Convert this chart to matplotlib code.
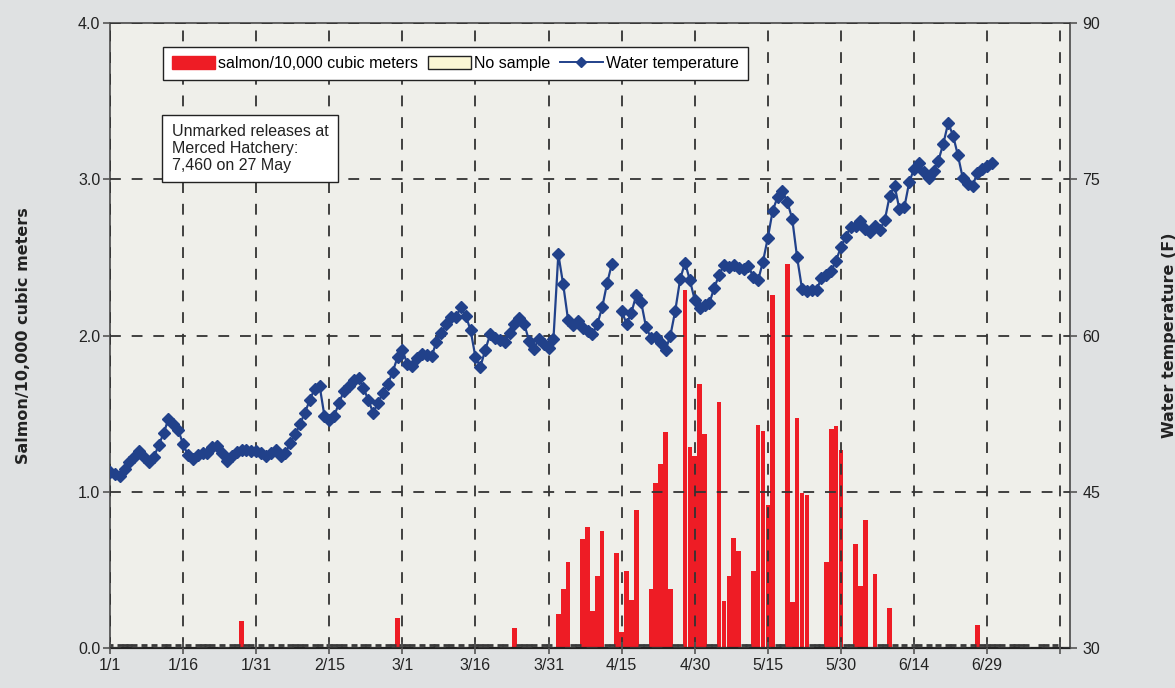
import numpy as np
import matplotlib
matplotlib.use("Agg")
import matplotlib.pyplot as plt
from matplotlib.patches import Patch
from matplotlib.lines import Line2D

plt.rcParams['font.family'] = ['Liberation Sans', 'DejaVu Sans']

# ---------------- data ----------------
tick_days = [0, 15, 30, 45, 60, 75, 90, 105, 120, 135, 150, 165, 180, 195]
tick_labels = ["1/1", "1/16", "1/31", "2/15", "3/1", "3/16", "3/31", "4/15",
               "4/30", "5/15", "5/30", "6/14", "6/29", ""]

# salmon per 10,000 cubic meters (day index from 1 Jan)
bar_days = [27, 59, 83, 92, 93, 94, 97, 98, 99, 100, 101, 104, 105, 106, 107, 108,
            111, 112, 113, 114, 115, 118, 119, 120, 121, 122, 125, 126, 127, 128, 129,
            132, 133, 134, 135, 136, 139, 140, 141, 142, 143, 147, 148, 149, 150,
            153, 154, 155, 157, 160, 178]
bar_values = [0.17, 0.19, 0.13, 0.22, 0.375, 0.55, 0.70, 0.775, 0.24, 0.46, 0.75,
              0.605, 0.10, 0.49, 0.31, 0.885, 0.38, 1.056, 1.176, 1.38, 0.38,
              2.29, 1.286, 1.227, 1.687, 1.367, 1.574, 0.30, 0.46, 0.707, 0.622,
              0.494, 1.43, 1.39, 0.914, 2.26, 2.46, 0.296, 1.474, 0.995, 0.978,
              0.548, 1.40, 1.42, 1.265, 0.665, 0.40, 0.818, 0.473, 0.258, 0.147]

# sampled days with zero catch
zero_days = [0, 2, 3, 4, 5, 7, 9, 11, 12, 14, 16, 18, 19, 20, 21, 23, 25, 26, 28, 29,
             31, 33, 35, 37, 38, 39, 40, 42, 43, 45, 46, 47, 48, 50, 52, 53, 55, 57, 58,
             60, 61, 62, 64, 66, 67, 69, 70, 72, 74, 75, 76, 77, 78, 80, 81, 84, 85,
             86, 87, 89, 90, 95, 96, 102, 103, 109, 110, 116, 117, 123, 124, 130, 131,
             137, 138, 144, 145, 146, 151, 152, 158, 159, 161, 163, 165, 166, 168, 170,
             172, 173, 175, 177, 179, 180, 181, 182, 183, 185, 186, 187, 188, 191, 192, 194]

# daily water temperature (F), starting 1 Jan; None = missing
temp_start_day = 0
temp_values = [
    46.9, 46.7, 46.5, 47.2, 47.9, 48.3, 48.9, 48.3, 47.9, 48.3,
    49.5, 50.6, 52.0, 51.5, 50.9, 49.6, 48.5, 48.1, 48.5, 48.7,
    48.7, 49.3, 49.4, 48.7, 48.0, 48.4, 48.8, 49.0, 49.0, 48.9,
    48.9, 48.7, 48.4, 48.7, 49.0, 48.4, 48.7, 49.7, 50.5, 51.5,
    52.6, 53.8, 54.9, 55.2, 52.3, 51.9, 52.3, 53.5, 54.7, 55.2,
    55.7, 55.9, 55.0, 53.8, 52.6, 53.5, 54.5, 55.3, 56.5, 57.9,
    58.6, 57.3, 57.1, 57.8, 58.2, 58.1, 58.0, 59.4, 60.2, 61.1,
    61.8, 61.8, 62.7, 61.9, 60.5, 57.9, 57.0, 58.6, 60.1, 59.8,
    59.6, 59.4, 60.2, 61.1, 61.7, 61.1, 59.5, 58.7, 59.7, 59.2,
    58.8, 59.7, 67.8, 64.9, 61.5, 61.0, 61.4, 60.7, 60.4, 60.1,
    61.1, 62.7, 65.0, 66.9, None, 62.4, 61.1, 62.2, 63.9, 63.2,
    60.8, 59.8, 59.9, 59.3, 58.6, 60.0, 62.4, 65.4, 67.0, 65.3,
    63.4, 62.6, 62.9, 63.1, 64.6, 65.8, 66.8, 66.6, 66.8, 66.5,
    66.4, 66.7, 65.6, 65.3, 67.1, 69.4, 72.0, 73.3, 73.9, 72.8,
    71.2, 67.5, 64.5, 64.3, 64.4, 64.4, 65.5, 65.8, 66.2, 67.2,
    68.5, 69.5, 70.4, 70.5, 71.0, 70.2, 69.9, 70.5, 70.1, 71.1,
    73.4, 74.4, 72.1, 72.3, 74.7, 76.0, 76.6, 75.7, 75.1, 75.8,
    76.8, 78.4, 80.4, 79.2, 77.3, 75.1, 74.5, 74.4, 75.6, 76.0,
    76.3, 76.6]

left_ticks = [0.0, 1.0, 2.0, 3.0, 4.0]
right_ticks = [30, 45, 60, 75, 90]

# ---------------- styles ----------------
fig_bg = '#dfe1e2'
ax_bg = '#efefea'
red = '#ee1c25'
blue = '#21418a'
grid_col = '#333333'

fig = plt.figure(figsize=(11.75, 6.88), dpi=100, facecolor=fig_bg)
ax = fig.add_axes([110/1175, 1-648/688, (1070-110)/1175, (648-23)/688])
ax.set_facecolor(ax_bg)

ax.bar(bar_days, bar_values, width=0.95, color=red, edgecolor='none',
       linewidth=0, zorder=1)
ax.plot(zero_days, [0.02]*len(zero_days), ls='none', marker='_', ms=5,
        mew=2.0, color='#3a3a3a', zorder=1.5)

ax.set_xlim(0, 197)
ax.set_ylim(0, 4.0)
ax.set_xticks(tick_days)
ax.set_xticklabels(tick_labels)
ax.set_yticks(left_ticks)
ax.set_yticklabels([f"{v:.1f}" for v in left_ticks])
ax.set_axisbelow(False)
ax.grid(True, color=grid_col, linestyle=(0, (6, 6)), linewidth=1.3, zorder=2)
ax.tick_params(axis='x', direction='inout', length=9, width=1.2, colors='#555555',
               labelcolor='#222222', labelsize=11.5, pad=3)
ax.tick_params(axis='y', direction='out', length=5, width=1.2, colors='#555555',
               labelcolor='#222222', labelsize=11.5, pad=2)
for s in ax.spines.values():
    s.set_color('#555555')
    s.set_linewidth(1.3)
ax.spines['bottom'].set_color('#222222')
ax.spines['bottom'].set_linewidth(1.6)

ax.set_ylabel("Salmon/10,000 cubic meters", fontsize=11.5, fontweight='bold',
              color='#222222', family=['DejaVu Sans'])
ax.yaxis.set_label_coords(-0.082, 0.5)

ax2 = ax.twinx()
ax2.set_ylim(30, 90)
ax2.set_yticks(right_ticks)
ax2.tick_params(axis='y', direction='out', length=5, width=1.2, colors='#555555',
                labelcolor='#222222', labelsize=11.5, pad=4)
for s in ax2.spines.values():
    s.set_visible(False)

temp_days = [temp_start_day + i for i in range(len(temp_values))]
temp_arr = np.array([np.nan if v is None else v for v in temp_values], dtype=float)
ax2.plot(temp_days, temp_arr, color=blue, lw=1.6, marker='D', ms=5.8,
         mec=blue, mfc=blue, zorder=3)
ax2.set_ylabel("Water temperature (F)", fontsize=11.5, fontweight='bold',
               color='#222222', rotation=90, family=['DejaVu Sans'])
ax2.yaxis.set_label_coords(1.0955, 0.5)

handles = [Patch(facecolor=red, edgecolor=red),
           Patch(facecolor='#fbf7d5', edgecolor='#222222', linewidth=1.0),
           Line2D([0], [0], color=blue, lw=1.4, marker='D', ms=5, mfc=blue, mec=blue)]
labels = ["salmon/10,000 cubic meters", "No sample", "Water temperature"]
leg = ax2.legend(handles, labels, loc='upper left', bbox_to_anchor=(0.0552, 0.9616),
                 borderaxespad=0, ncol=3, fontsize=11.5, frameon=True, fancybox=False,
                 edgecolor='#222222', facecolor='white', framealpha=1,
                 handlelength=2.7, handleheight=0.9, handletextpad=0.2,
                 columnspacing=0.6, borderpad=0.55)
leg.get_frame().set_linewidth(1.0)
leg.set_zorder(10)

ax2.text(0.0645, 0.838, "Unmarked releases at\nMerced Hatchery:\n7,460 on 27 May",
         transform=ax2.transAxes, ha='left', va='top', fontsize=11.5, color='#222222',
         linespacing=1.15, zorder=10,
         bbox=dict(boxstyle='square,pad=0.6', facecolor='white', edgecolor='#222222',
                   linewidth=1.0))

fig.savefig("out.png", dpi=100, facecolor=fig_bg)
